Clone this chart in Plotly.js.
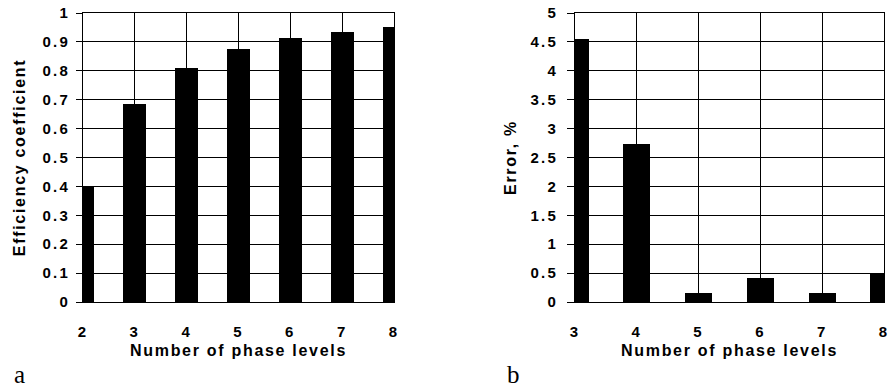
<!DOCTYPE html>
<html>
<head>
<meta charset="utf-8">
<script src="https://cdn.plot.ly/plotly-3.0.1.min.js"></script>
<style>
html, body { margin: 0; padding: 0; background: #fff; }
#chart { width: 890px; height: 390px; }
.xtitle, .x2title, .ytitle, .y2title { letter-spacing: 1.7px; }
.xaxislayer-above text, .yaxislayer-above text { letter-spacing: 2.2px; }
</style>
</head>
<body>
<div id="chart"></div>
<script>
// Panel a: efficiency coefficient vs number of phase levels
const levelsA = [2, 3, 4, 5, 6, 7, 8];
const efficiency = [0.40, 0.686, 0.81, 0.877, 0.915, 0.935, 0.95];
// Panel b: error (%) vs number of phase levels
const levelsB = [3, 4, 5, 6, 7, 8];
const errorPct = [4.55, 2.73, 0.15, 0.41, 0.15, 0.5];

const xTitle = 'Number of phase levels';
const yTitleA = 'Efficiency coefficient';
const yTitleB = 'Error, %';
const panelLabels = ['a', 'b'];

const W = 890, H = 390;
const px = v => v / W;
const py = v => 1 - v / H;

const fontTick = { family: 'Liberation Sans, Arial, sans-serif', size: 15, color: '#000', weight: 'bold' };
const fontTitle = { family: 'Liberation Sans, Arial, sans-serif', size: 16, color: '#000', weight: 'bold' };

const traces = [
  { type: 'bar', x: levelsA, y: efficiency, width: 0.44, marker: { color: '#000', line: { width: 0 } },
    xaxis: 'x', yaxis: 'y' },
  { type: 'bar', x: levelsB, y: errorPct, width: 0.44, marker: { color: '#000', line: { width: 0 } },
    xaxis: 'x2', yaxis: 'y2' }
];

function axis(extra) {
  return Object.assign({
    showgrid: true, gridcolor: '#000', gridwidth: 1,
    showline: true, linecolor: '#000', linewidth: 1, mirror: true,
    zeroline: false, automargin: false,
    tickfont: { family: fontTick.family, size: fontTick.size, color: fontTick.color, weight: fontTick.weight }
  }, extra);
}

const layout = {
  width: W, height: H,
  margin: { l: 0, r: 0, t: 0, b: 0 },
  paper_bgcolor: '#fff', plot_bgcolor: '#fff',
  showlegend: false,
  bargap: 0,
  xaxis: axis({
    domain: [px(83), px(394)], range: [2, 8], dtick: 1, tick0: 2,
    ticks: '', ticklabelstandoff: 16, anchor: 'y',
    title: { text: xTitle, font: fontTitle, standoff: 5 }
  }),
  yaxis: axis({
    domain: [py(302), py(13)], range: [0, 1], dtick: 0.1, tick0: 0,
    ticks: 'outside', ticklen: 6, tickcolor: '#000', tickwidth: 1, ticklabelstandoff: 3, anchor: 'x',
    title: { text: yTitleA, font: fontTitle, standoff: 19 }
  }),
  xaxis2: axis({
    domain: [px(575), px(884)], range: [3, 8], dtick: 1, tick0: 3,
    ticks: '', ticklabelstandoff: 16, anchor: 'y2',
    title: { text: xTitle, font: fontTitle, standoff: 5 }
  }),
  yaxis2: axis({
    domain: [py(302), py(13)], range: [0, 5], dtick: 0.5, tick0: 0,
    ticks: 'outside', ticklen: 7, tickcolor: '#000', tickwidth: 1, ticklabelstandoff: 6, anchor: 'x2',
    title: { text: yTitleB, font: fontTitle, standoff: 16 }
  }),
  annotations: [
    { text: panelLabels[0], xref: 'paper', yref: 'paper', x: px(12), y: py(390), xanchor: 'left', yanchor: 'bottom',
      showarrow: false, font: { family: 'Liberation Serif, DejaVu Serif, serif', size: 25, color: '#000' } },
    { text: panelLabels[1], xref: 'paper', yref: 'paper', x: px(505), y: py(390), xanchor: 'left', yanchor: 'bottom',
      showarrow: false, font: { family: 'Liberation Serif, DejaVu Serif, serif', size: 25, color: '#000' } }
  ]
};

Plotly.newPlot('chart', traces, layout, { displayModeBar: false, staticPlot: true });
</script>
</body>
</html>
